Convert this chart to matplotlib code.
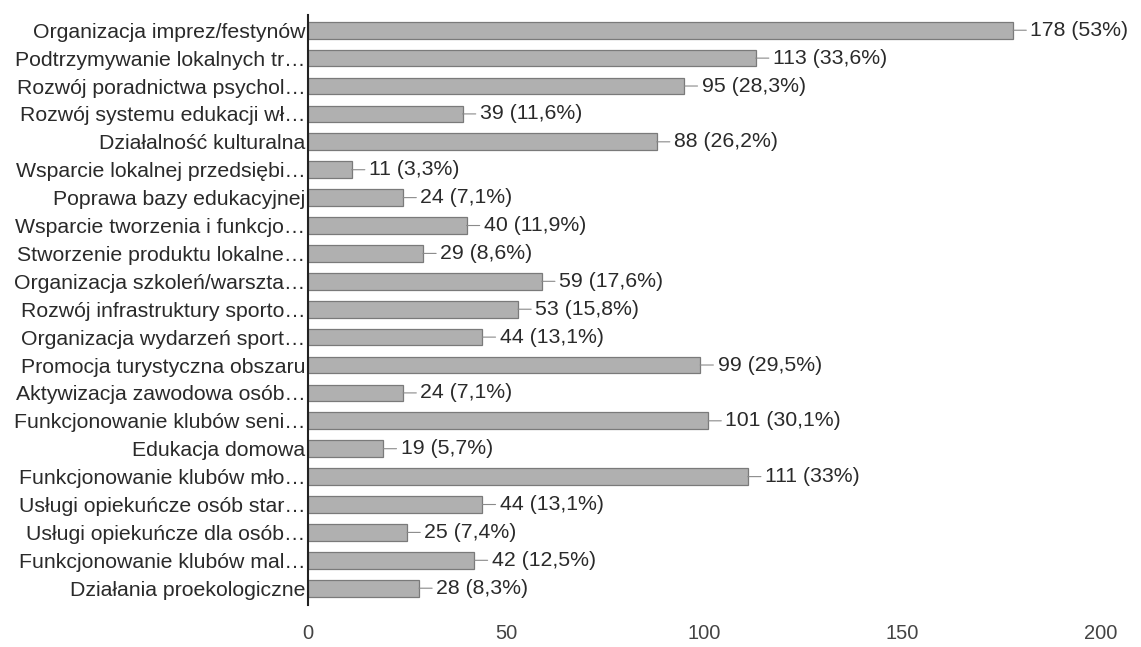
import matplotlib.pyplot as plt

plt.rcParams['font.family'] = ['Liberation Sans', 'DejaVu Sans']

categories = [
    "Organizacja imprez/festynów",
    "Podtrzymywanie lokalnych tr…",
    "Rozwój poradnictwa psychol…",
    "Rozwój systemu edukacji wł…",
    "Działalność kulturalna",
    "Wsparcie lokalnej przedsiębi…",
    "Poprawa bazy edukacyjnej",
    "Wsparcie tworzenia i funkcjo…",
    "Stworzenie produktu lokalne…",
    "Organizacja szkoleń/warszta…",
    "Rozwój infrastruktury sporto…",
    "Organizacja wydarzeń sport…",
    "Promocja turystyczna obszaru",
    "Aktywizacja zawodowa osób…",
    "Funkcjonowanie klubów seni…",
    "Edukacja domowa",
    "Funkcjonowanie klubów mło…",
    "Usługi opiekuńcze osób star…",
    "Usługi opiekuńcze dla osób…",
    "Funkcjonowanie klubów mal…",
    "Działania proekologiczne",
]
counts = [178, 113, 95, 39, 88, 11, 24, 40, 29, 59, 53, 44, 99, 24, 101, 19, 111, 44, 25, 42, 28]
percents = ["53%", "33,6%", "28,3%", "11,6%", "26,2%", "3,3%", "7,1%", "11,9%", "8,6%",
            "17,6%", "15,8%", "13,1%", "29,5%", "7,1%", "30,1%", "5,7%", "33%", "13,1%",
            "7,4%", "12,5%", "8,3%"]
xticks = [0, 50, 100, 150, 200]

fig = plt.figure(figsize=(11.41, 6.47), dpi=100)
ax = fig.add_axes([0.27, 0.065, 0.729, 0.912])

pos = list(range(len(categories)))
ax.barh(pos, counts, height=0.6, color='#b0b0b0', edgecolor='#7a7a7a', linewidth=0.9)

# value labels with the short leader line
for i, (c, p) in enumerate(zip(counts, percents)):
    ax.annotate(f"{c} ({p})", xy=(c, i), xytext=(12.5, 0), textcoords='offset points',
                ha='left', va='center', fontsize=15.3, color='#2a2a2a',
                arrowprops=dict(arrowstyle='-', color='#8a8a8a', lw=0.8,
                                shrinkA=1, shrinkB=0))

ax.set_xlim(0, 210)
ax.set_ylim(20.6, -0.55)
ax.set_yticks(pos)
ax.set_yticklabels(categories, fontsize=15.3, color='#2a2a2a')
ax.set_xticks(xticks)
ax.set_xticklabels([str(t) for t in xticks], fontsize=14.5, color='#444444')
ax.tick_params(axis='y', length=0, pad=2)
ax.tick_params(axis='x', length=0, pad=14)

for s in ['top', 'right', 'bottom']:
    ax.spines[s].set_visible(False)
ax.spines['left'].set_color('#222222')
ax.spines['left'].set_linewidth(1.5)

fig.savefig('out.png', dpi=100, facecolor='white')
